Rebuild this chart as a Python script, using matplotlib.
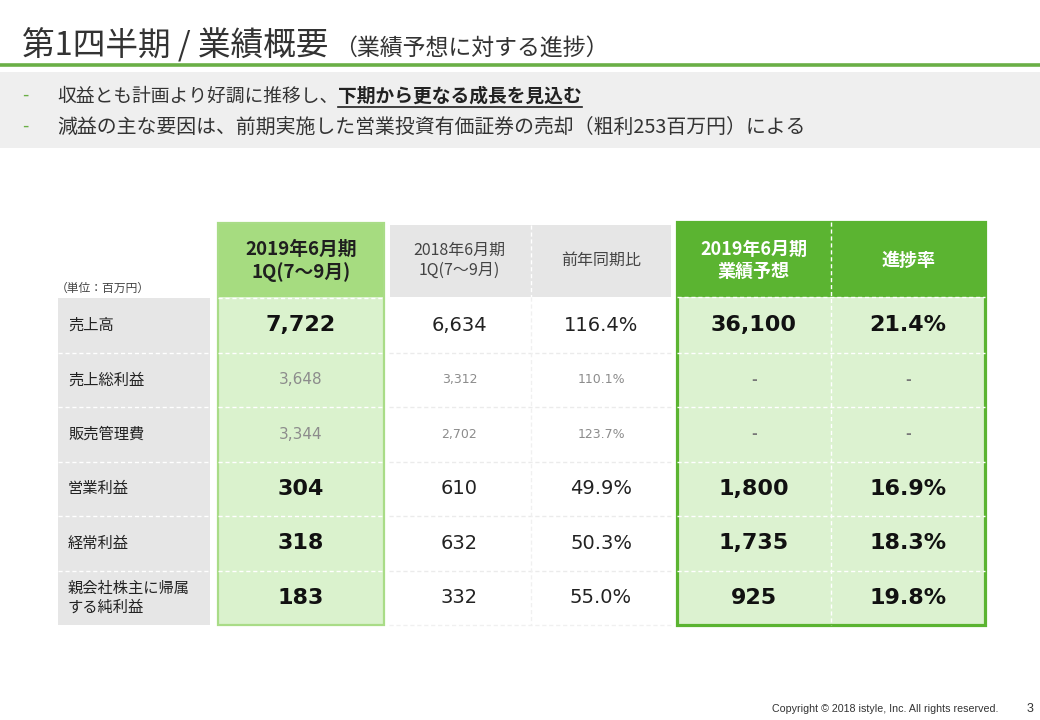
import matplotlib
matplotlib.use('Agg')
import matplotlib.pyplot as plt
from matplotlib.patches import Rectangle

plt.rcParams['font.family'] = ['Noto Sans CJK JP', 'DejaVu Sans']

# データ（単位：百万円）
row_labels = ['売上高', '売上総利益', '販売管理費', '営業利益', '経常利益', '親会社株主に帰属\nする純利益']
q1_2019 = [7722, 3648, 3344, 304, 318, 183]
q1_2018 = [6634, 3312, 2702, 610, 632, 332]
yoy_pct = [116.4, 110.1, 123.7, 49.9, 50.3, 55.0]
forecast = [36100, None, None, 1800, 1735, 925]
progress_pct = [21.4, None, None, 16.9, 18.3, 19.8]
minor_rows = [1, 2]

col_headers = ['2019年6月期\n1Q(7～9月)', '2018年6月期\n1Q(7～9月)', '前年同期比',
               '2019年6月期\n業績予想', '進捗率']

title_main = '第1四半期 / 業績概要'
title_sub = '（業績予想に対する進捗）'
bullet1_plain = '収益とも計画より好調に推移し、'
bullet1_bold = '下期から更なる成長を見込む'
bullet2 = '減益の主な要因は、前期実施した営業投資有価証券の売却（粗利253百万円）による'

# 色
GREEN_LINE = '#6aaf46'
BAND = '#efefef'
LABEL_BG = '#e6e6e6'
C1_HEAD = '#a6dc80'
C1_BODY = '#daf2cd'
C1_EDGE = '#a9dc87'
FC_HEAD = '#5bb431'
FC_BODY = '#dcf2d0'
NUM_FONT = ['DejaVu Sans', 'Noto Sans CJK JP']

# レイアウト（ピクセル）
label_x = (58, 210)
col_x = [(218, 384), (389, 530), (531, 671), (677, 831), (831, 985)]
head_top, head_bot, body_bot = 224, 297, 625
n_rows = len(row_labels)
row_h = (body_bot - (head_bot + 1)) / n_rows
row_top = [head_bot + 1 + i * row_h for i in range(n_rows)]

fig = plt.figure(figsize=(10.4, 7.2), dpi=100)
ax = fig.add_axes([0, 0, 1, 1])
ax.set_xlim(0, 1040)
ax.set_ylim(720, 0)
ax.axis('off')


def right_edge(t):
    fig.canvas.draw()
    bb = t.get_window_extent()
    return ax.transData.inverted().transform((bb.x1, bb.y0))[0]


# タイトル
t = ax.text(22, 45, title_main, fontsize=23.5, color='#333333', va='center')
ax.text(right_edge(t) + 6, 48, title_sub, fontsize=16.5, color='#333333', va='center')
ax.plot([0, 1040], [65, 65], color=GREEN_LINE, lw=2.6, solid_capstyle='butt')

# 箇条書き
ax.add_patch(Rectangle((0, 72), 1040, 76, color=BAND, lw=0))
for y in (96, 127):
    ax.text(22, y, '-', fontsize=13, color=GREEN_LINE, va='center')
t1 = ax.text(57, 96, bullet1_plain, fontsize=13.5, color='#333333', va='center')
tb = ax.text(right_edge(t1), 96, bullet1_bold, fontsize=13.5, color='#222222',
             fontweight='bold', va='center')
fig.canvas.draw()
bb = tb.get_window_extent()
(ux0, _), (ux1, _) = ax.transData.inverted().transform([(bb.x0, bb.y0), (bb.x1, bb.y0)])
ax.plot([ux0, ux1], [107, 107], color='#222222', lw=1.2)
ax.text(57, 127, bullet2, fontsize=14.3, color='#333333', va='center')

# 表の背景
ax.add_patch(Rectangle((label_x[0], head_bot + 1), label_x[1] - label_x[0],
                       body_bot - head_bot - 1, color=LABEL_BG, lw=0))
ax.add_patch(Rectangle((col_x[0][0], 223), col_x[0][1] - col_x[0][0], head_bot - 223,
                       color=C1_HEAD, lw=0))
ax.add_patch(Rectangle((col_x[0][0], head_bot), col_x[0][1] - col_x[0][0],
                       body_bot - head_bot, color=C1_BODY, lw=0))
ax.add_patch(Rectangle((col_x[1][0] + 1, 225), col_x[2][1] - col_x[1][0] - 1, head_bot - 225,
                       color=LABEL_BG, lw=0))
ax.add_patch(Rectangle((col_x[3][0], 222), col_x[4][1] - col_x[3][0], head_bot - 222,
                       color=FC_HEAD, lw=0))
ax.add_patch(Rectangle((col_x[3][0], head_bot), col_x[4][1] - col_x[3][0],
                       body_bot - head_bot, color=FC_BODY, lw=0))

# 区切り線（破線）
dash = (0, (3, 2))
for i in range(1, n_rows):
    y = row_top[i]
    ax.plot(label_x, [y, y], color='white', lw=1, ls=dash)
    ax.plot(col_x[0], [y, y], color='white', lw=1, ls=dash)
    ax.plot([col_x[1][0], col_x[2][1]], [y, y], color='#ebebeb', lw=1, ls=dash)
    ax.plot([col_x[3][0], col_x[4][1]], [y, y], color='white', lw=1, ls=dash)
ax.plot([col_x[1][0], col_x[2][1]], [body_bot, body_bot], color='#f0f0f0', lw=1, ls=dash)
ax.plot([col_x[3][0], col_x[4][1]], [head_bot, head_bot], color='white', lw=1, ls=dash)
ax.plot([col_x[0][0], col_x[0][1]], [head_bot + 1, head_bot + 1], color='white', lw=1, ls=dash)
ax.plot([col_x[2][0], col_x[2][0]], [225, head_bot], color='white', lw=1, ls=dash)
ax.plot([col_x[2][0], col_x[2][0]], [head_bot, body_bot], color='#f0f0f0', lw=1, ls=dash)
ax.plot([col_x[4][0], col_x[4][0]], [222, body_bot], color='white', lw=1, ls=dash)

# 枠線
ax.add_patch(Rectangle((col_x[0][0], 223), col_x[0][1] - col_x[0][0], body_bot - 223,
                       fill=False, ec=C1_EDGE, lw=1.6))
ax.add_patch(Rectangle((col_x[3][0], 222), col_x[4][1] - col_x[3][0], body_bot - 222,
                       fill=False, ec=FC_HEAD, lw=2.3))

# 見出し
head_y = (head_top + head_bot) / 2
head_style = [
    dict(fontsize=13.5, fontweight='bold', color='#1f1f1f'),
    dict(fontsize=11.5, color='#444444'),
    dict(fontsize=11.5, color='#444444'),
    dict(fontsize=13, fontweight='bold', color='white'),
    dict(fontsize=13, fontweight='bold', color='white'),
]
for (x0, x1), txt, st in zip(col_x, col_headers, head_style):
    ax.text((x0 + x1) / 2, head_y, txt, ha='center', va='center',
            linespacing=1.2, **st)
ax.text(56, 288, '（単位：百万円）', fontsize=8.5, color='#444444', va='center')

# 行
for i, label in enumerate(row_labels):
    yc = row_top[i] + row_h / 2
    ax.text(68, yc, label, fontsize=11, color='#222222', va='center', linespacing=1.1)
    minor = i in minor_rows
    cells = [
        f'{q1_2019[i]:,}',
        f'{q1_2018[i]:,}',
        f'{yoy_pct[i]:.1f}%',
        '-' if forecast[i] is None else f'{forecast[i]:,}',
        '-' if progress_pct[i] is None else f'{progress_pct[i]:.1f}%',
    ]
    for j, (txt, (x0, x1)) in enumerate(zip(cells, col_x)):
        if minor:
            if j == 0:
                st = dict(fontsize=11, color='#8c8c8c')
            elif j in (1, 2):
                st = dict(fontsize=9, color='#8c8c8c')
            else:
                st = dict(fontsize=10, color='#777777', fontweight='bold')
        else:
            if j in (1, 2):
                st = dict(fontsize=14, color='#222222')
            else:
                st = dict(fontsize=16, color='#111111', fontweight='bold')
        ax.text((x0 + x1) / 2, yc, txt, ha='center', va='center', family=NUM_FONT, **st)

# フッター
ax.text(999, 709, 'Copyright © 2018 istyle, Inc. All rights reserved.', fontsize=7.7,
        family='Liberation Sans', color='#333333', ha='right', va='center')
ax.text(1030, 709, '3', fontsize=9, family='Liberation Sans', color='#333333',
        ha='center', va='center')

fig.savefig('out.png', dpi=100)
